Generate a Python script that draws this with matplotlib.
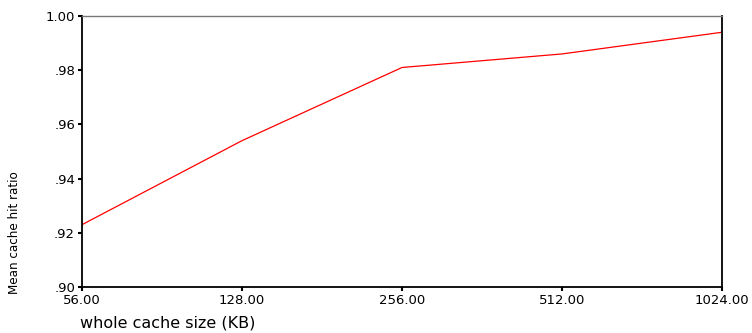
import matplotlib
matplotlib.use('Agg')
import matplotlib.pyplot as plt

# cache sizes (categorical) and mean hit ratio
sizes = ['56.00', '128.00', '256.00', '512.00', '1024.00']
hit_ratio = [0.923, 0.954, 0.981, 0.986, 0.994]
yticks = [0.90, 0.92, 0.94, 0.96, 0.98, 1.00]
ytick_labels = ['.90', '.92', '.94', '.96', '.98', '1.00']

fig = plt.figure(figsize=(7.52, 3.33), dpi=100)
ax = fig.add_axes([82 / 752, 1 - 287 / 333, 640 / 752, 271 / 333])

ax.plot(range(len(sizes)), hit_ratio, color='red', linewidth=0.9)

ax.set_xlim(0, len(sizes) - 1)
ax.set_ylim(0.90, 1.00)
ax.set_xticks(range(len(sizes)))
ax.set_xticklabels(sizes, fontsize=9.5)
ax.set_yticks(yticks)
ax.set_yticklabels(ytick_labels, fontsize=9.5)
ax.tick_params(direction='out', length=3, width=1.5, pad=2)

for side in ['left', 'bottom', 'right']:
    ax.spines[side].set_color('black')
    ax.spines[side].set_linewidth(1.3)
ax.spines['top'].set_color('#777777')
ax.spines['top'].set_linewidth(1.0)

fig.text(80 / 752, 1 - 328 / 333, 'whole cache size (KB)', fontsize=11.5,
         ha='left', va='baseline')
fig.text(15 / 752, 1 - 233 / 333, 'Mean cache hit ratio', fontsize=9.5,
         rotation=90, ha='center', va='center', fontstretch='condensed')

fig.savefig('out.png', dpi=100)
